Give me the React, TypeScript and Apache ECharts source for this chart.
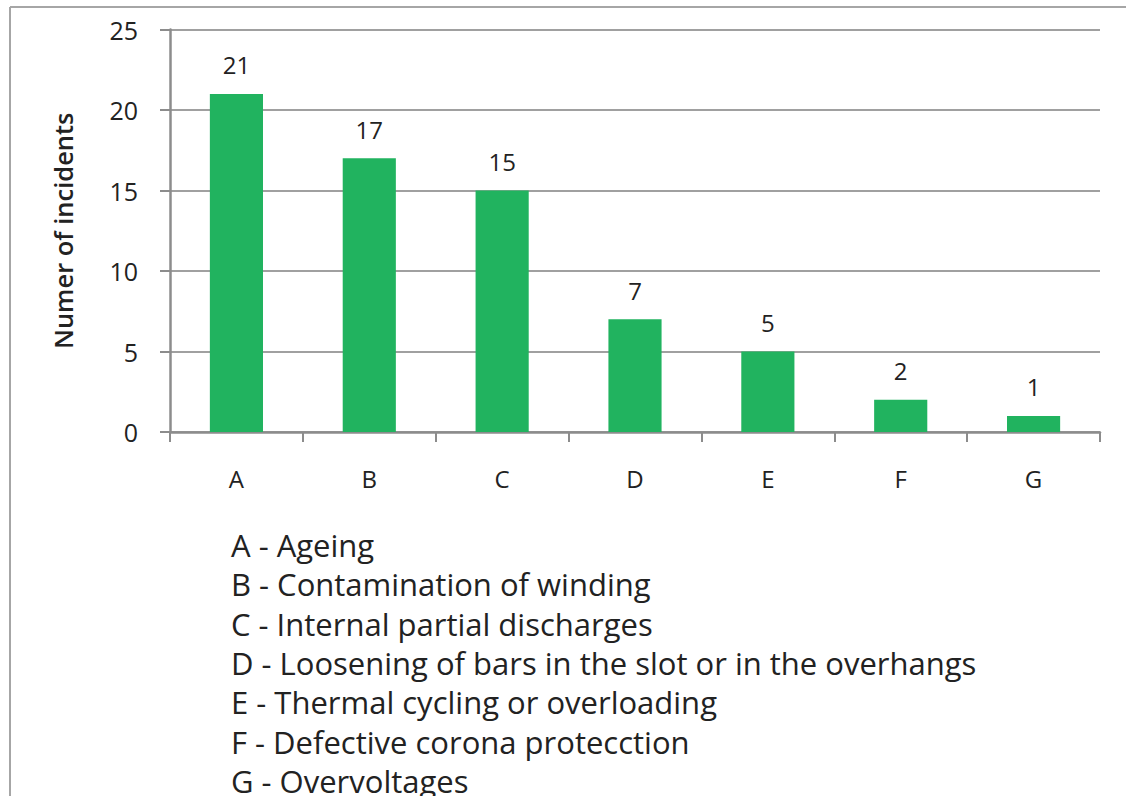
import React, { useEffect, useRef } from "react";
import * as echarts from "echarts";

const categories = ["A", "B", "C", "D", "E", "F", "G"];
const incidents = [21, 17, 15, 7, 5, 2, 1];
const legendLines = [
  "A - Ageing",
  "B - Contamination of winding",
  "C - Internal partial discharges",
  "D - Loosening of bars in the slot or in the overhangs",
  "E - Thermal cycling or overloading",
  "F - Defective corona protecction",
  "G - Overvoltages",
];
const yTicks = [0, 5, 10, 15, 20, 25];

const FONT = "'Open Sans', Lato, sans-serif";
const TEXT = "#222222";

export default function App() {
  const ref = useRef<HTMLDivElement>(null);
  useEffect(() => {
    if (!ref.current) return;
    const chart = echarts.init(ref.current, undefined, { renderer: "svg" });
    const graphics: any[] = [
      { type: "line", shape: { x1: 10, y1: 7, x2: 1126, y2: 7 }, style: { stroke: "#a6a6a6", lineWidth: 2 } },
      { type: "line", shape: { x1: 10, y1: 7, x2: 10, y2: 796 }, style: { stroke: "#a6a6a6", lineWidth: 2 } },
    ];
    legendLines.forEach((t, i) => {
      graphics.push({
        type: "text",
        x: 231,
        y: 545 + i * 39.3,
        style: { text: t, fill: TEXT, font: `31px ${FONT}`, verticalAlign: "middle", align: "left" },
      });
    });
    chart.setOption({
      animation: false,
      grid: { left: 170, right: 26, top: 29.5, bottom: 364, containLabel: false },
      xAxis: {
        type: "category",
        data: categories,
        axisLine: { lineStyle: { color: "#8c8c8c", width: 2.5 } },
        axisTick: { show: true, length: 10, alignWithLabel: false, lineStyle: { color: "#8c8c8c", width: 2 } },
        axisLabel: { color: TEXT, fontSize: 24, fontFamily: FONT, margin: 34 },
      },
      yAxis: {
        type: "value",
        min: yTicks[0],
        max: yTicks[yTicks.length - 1],
        interval: 5,
        name: "Numer of incidents",
        nameLocation: "middle",
        nameGap: 94,
        nameRotate: 90,
        nameTextStyle: { color: TEXT, fontSize: 25.5, fontWeight: 600, fontFamily: FONT },
        axisLine: { show: true, lineStyle: { color: "#8c8c8c", width: 2.5 } },
        axisTick: { show: true, length: 10, lineStyle: { color: "#8c8c8c", width: 2 } },
        axisLabel: { color: TEXT, fontSize: 25, fontFamily: FONT, margin: 32 },
        splitLine: { show: true, lineStyle: { color: "#a0a0a0", width: 2 } },
      },
      series: [
        {
          type: "bar",
          data: incidents,
          barWidth: "40%",
          itemStyle: { color: "#21b35f" },
          label: {
            show: true,
            position: "top",
            distance: 17,
            color: TEXT,
            fontSize: 24,
            fontFamily: FONT,
          },
        },
      ],
      graphic: graphics,
    });
    return () => chart.dispose();
  }, []);
  return (
    <div
      ref={ref}
      style={{ position: "fixed", left: 0, top: 0, width: 1126, height: 796, background: "#fff" }}
    />
  );
}
